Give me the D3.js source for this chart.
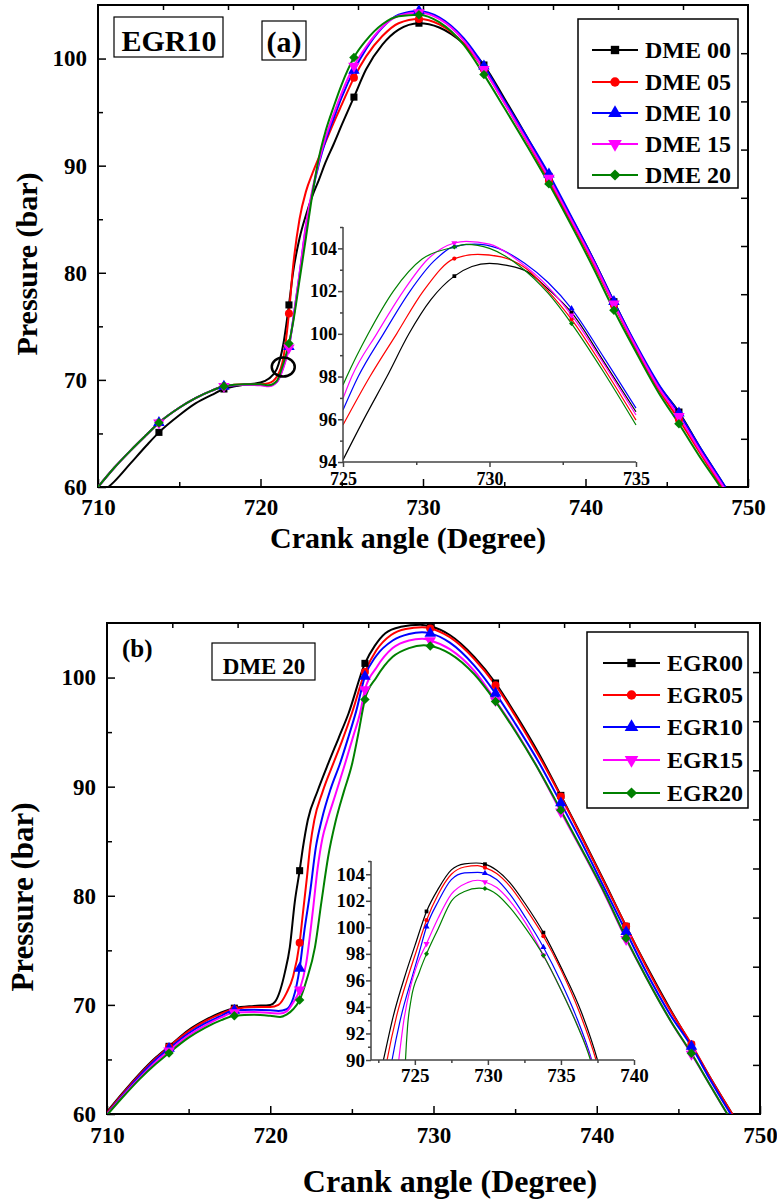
<!DOCTYPE html>
<html><head><meta charset="utf-8">
<script src="https://cdn.jsdelivr.net/npm/d3@7"></script>
<style>
body{margin:0;background:#fff}
svg{display:block}
text{font-family:"Liberation Serif","Times New Roman",serif;font-weight:bold;fill:#000}
</style>
</head><body>
<svg id="c" width="777" height="1200"></svg>
<script>
// ---------------- DATA ----------------
const namesA = ["DME 00","DME 05","DME 10","DME 15","DME 20"];
const namesB = ["EGR00","EGR05","EGR10","EGR15","EGR20"];
const colors = ["#000000","#ff0000","#0000ff","#ff00ff","#008000"];

const xMajor = [710,720,730,740,750];
const xMinor = [715,725,735,745];
const yMajor = [60,70,80,90,100];
const yMinor = [65,75,85,95];
const xTopTicks = [714,718,722,726,730,734,738,742,746];
const yRightTicks = [64.5,69,73.5,78,82.5,87,91.5,96,100.5];

const markersA = [713.75,717.75,721.75,725.75,729.75,733.75,737.75,741.75,745.75];
const markersB = [713.8,717.8,721.8,725.8,729.8,733.8,737.8,741.8,745.8];

// Panel (a) main curves [crank angle, pressure]
const aDME00 = [[710,59.2],[711,60.5],[712,62.2],[713,63.9],[713.75,65.1],[715,66.7],[716,67.8],[717,68.6],[717.75,69.15],[719,69.55],[720,69.75],[720.5,70.1],[721,71.0],[721.4,73.3],[721.75,77.0],[722,80.0],[722.4,83.2],[722.8,85.4],[723.2,87.2],[723.6,88.7],[724,90.3],[724.5,92.0],[725,93.8],[725.75,96.4],[726.5,99.0],[727.5,101.3],[728.5,102.7],[729.75,103.3],[731,102.9],[732.5,101.4],[733.75,99.4],[735,96.3],[736.5,92.4],[737.75,89.0],[739,85.5],[740.5,81.2],[741.75,77.3],[743,73.5],[744.5,69.5],[745.75,67.0],[747,63.8],[748.6,60],[749.5,57.8]];
const aDME05 = [[710,60],[711,61.8],[712,63.4],[713,64.9],[713.75,66.0],[715,67.4],[716,68.3],[717,69.0],[717.75,69.4],[719,69.6],[720,69.6],[720.5,69.7],[721,70.3],[721.4,72.0],[721.75,76.2],[722,80.5],[722.4,85.0],[722.8,87.6],[723.2,89.3],[723.6,90.8],[724,92.2],[724.5,94.0],[725,95.7],[725.75,98.2],[726.5,100.2],[727.5,102.1],[728.5,103.3],[729.75,103.7],[731,103.2],[732.5,101.4],[733.75,99.0],[735,95.9],[736.5,92.0],[737.75,88.6],[739,85.1],[740.5,80.8],[741.75,77.0],[743,73.2],[744.5,69.1],[745.75,66.3],[747,63.3],[748.4,60],[749.5,57.5]];
const aDME10 = [[710,60],[711,61.8],[712,63.4],[713,64.9],[713.75,66.0],[715,67.4],[716,68.3],[717,69.0],[717.75,69.4],[719,69.55],[720,69.55],[720.5,69.45],[721,69.8],[721.4,71.2],[721.75,73.1],[722,75.5],[722.4,79.8],[722.8,84.3],[723.2,87.6],[723.6,90.2],[724,92.3],[724.5,94.4],[725,96.4],[725.75,98.9],[726.5,100.9],[727.5,102.9],[728.5,104.1],[729.75,104.45],[731,103.85],[732.5,101.9],[733.75,99.3],[735,96.1],[736.5,92.4],[737.75,89.2],[739,85.6],[740.5,81.2],[741.75,77.3],[743,73.6],[744.5,69.6],[745.75,66.9],[747,63.8],[748.6,60],[749.5,57.8]];
const aDME15 = [[710,60],[711,61.8],[712,63.4],[713,64.9],[713.75,66.0],[715,67.4],[716,68.3],[717,69.0],[717.75,69.4],[719,69.55],[720,69.5],[720.5,69.4],[721,69.8],[721.4,71.1],[721.75,73.0],[722,75.5],[722.4,79.9],[722.8,84.5],[723.2,87.8],[723.6,90.4],[724,92.6],[724.5,94.8],[725,96.8],[725.75,99.3],[726.5,101.1],[727.5,102.95],[728.5,104.0],[729.75,104.3],[731,103.7],[732.5,101.7],[733.75,99.0],[735,95.9],[736.5,92.1],[737.75,88.85],[739,85.3],[740.5,81.0],[741.75,77.1],[743,73.4],[744.5,69.3],[745.75,66.6],[747,63.5],[748.5,60],[749.5,57.6]];
const aDME20 = [[710,60],[711,61.8],[712,63.4],[713,64.9],[713.75,66.0],[715,67.4],[716,68.3],[717,69.0],[717.75,69.4],[719,69.6],[720,69.6],[720.5,69.5],[721,69.9],[721.4,71.5],[721.75,73.4],[722,75.3],[722.4,79.3],[722.8,83.3],[723.2,87.4],[723.6,90.8],[724,93.2],[724.5,95.5],[725,97.6],[725.75,100.1],[726.5,101.7],[727.5,103.2],[728.5,103.95],[729.75,104.1],[731,103.4],[732.5,101.3],[733.75,98.5],[735,95.4],[736.5,91.6],[737.75,88.3],[739,84.8],[740.5,80.4],[741.75,76.5],[743,72.9],[744.5,68.8],[745.75,65.9],[747,62.9],[748.3,60],[749.5,57.2]];

// Panel (a) inset curves
const insetMarkersA = [728.8,732.8];
const iaDME00 = [[725,94.1],[725.75,96.1],[726.5,98.0],[727.25,100.0],[728.0,101.6],[728.8,102.7],[729.4,103.15],[730.0,103.3],[730.6,103.2],[731.3,102.9],[732.0,102.1],[732.8,101.0],[733.9,98.7],[735,96.35]];
const iaDME05 = [[725,95.73],[725.92,98.0],[726.83,100.0],[727.74,102.0],[728.8,103.52],[729.6,103.72],[730.4,103.6],[731.3,103.0],[732.0,102.0],[732.8,100.68],[733.9,98.4],[735,95.96]];
const iaDME10 = [[725,96.43],[725.52,98.0],[726.38,100.0],[727.29,102.0],[728.1,103.4],[728.8,104.09],[729.5,104.2],[730.3,104.0],[731.2,103.3],[732.0,102.4],[732.8,101.18],[733.9,98.9],[735,96.52]];
const iaDME15 = [[725,96.97],[725.3,98.0],[726.15,100.0],[727.06,102.0],[727.9,103.5],[728.8,104.25],[729.2,104.33],[730.0,104.2],[731.0,103.4],[732.0,102.2],[732.8,100.87],[733.9,98.6],[735,96.2]];
const iaDME20 = [[725,97.6],[725.13,98.0],[725.86,100.0],[726.72,102.0],[727.7,103.5],[728.8,104.06],[729.2,104.19],[730.0,104.0],[731.0,103.2],[732.0,101.9],[732.8,100.48],[733.9,98.2],[735,95.73]];
const insetAxMajor = [725,730,735];
const insetAxMinor = [727.5,732.5];
const insetAyMajor = [94,96,98,100,102,104];
const insetAyMinor = [95,97,99,101,103,105];

// Panel (b) main curves
const bEGR00 = [[710,60.2],[711,62.0],[712,63.7],[713,65.2],[713.8,66.2],[715,67.7],[716,68.6],[717,69.3],[717.8,69.7],[719,69.9],[720,70.0],[720.3,70.3],[720.6,71.3],[720.9,73.0],[721.2,75.3],[721.5,79.4],[721.8,82.3],[722.0,84.4],[722.3,86.95],[722.9,89.6],[723.56,92.15],[724.2,94.5],[724.8,96.73],[725.8,101.3],[726.4,102.9],[727.05,104.06],[728.0,104.65],[729.2,104.85],[729.8,104.7],[731,103.9],[732.5,101.9],[733.8,99.5],[735,96.7],[736.5,92.9],[737.8,89.2],[739,85.7],[740.5,81.2],[741.8,77.2],[743,73.7],[744.5,69.6],[745.8,66.3],[747,63.2],[748.3,60],[749.5,57.2]];
const bEGR05 = [[710,60.1],[711,61.9],[712,63.6],[713,65.1],[713.8,66.15],[715,67.6],[716,68.5],[717,69.2],[717.8,69.6],[719,69.8],[720,69.8],[720.5,70.0],[721.0,71.1],[721.4,72.6],[721.8,75.7],[722.0,78.4],[722.23,81.45],[722.45,84.6],[722.7,86.95],[723.2,89.5],[723.87,92.15],[724.4,94.2],[725.0,96.73],[725.8,100.5],[726.5,102.5],[727.4,103.9],[728.3,104.45],[729.3,104.6],[729.8,104.5],[731,103.7],[732.5,101.7],[733.8,99.3],[735,96.5],[736.5,92.7],[737.8,89.1],[739,85.6],[740.5,81.1],[741.8,77.2],[743,73.6],[744.5,69.5],[745.8,66.4],[747,63.2],[748.3,60],[749.5,57.2]];
const bEGR10 = [[710,60.0],[711,61.8],[712,63.5],[713,65.0],[713.8,66.0],[715,67.4],[716,68.3],[717,69.0],[717.8,69.5],[719,69.55],[720,69.5],[720.5,69.45],[721.0,69.6],[721.2,69.9],[721.6,71.7],[721.8,73.35],[722.1,76.9],[722.43,80.2],[722.8,84.5],[723.15,86.95],[723.7,89.8],[724.28,92.15],[724.8,94.6],[725.26,96.9],[725.8,100.1],[726.5,102.0],[727.5,103.4],[728.5,104.0],[729.3,104.15],[729.8,104.05],[731,103.2],[732.5,101.1],[733.8,98.55],[735,95.8],[736.5,92.1],[737.8,88.5],[739,85.1],[740.5,80.6],[741.8,76.7],[743,73.1],[744.5,69.1],[745.8,66.2],[747,63.0],[748.2,60],[749.5,57]];
const bEGR15 = [[710,59.95],[711,61.7],[712,63.3],[713,64.8],[713.8,65.8],[715,67.2],[716,68.1],[717,68.85],[717.8,69.3],[719,69.35],[720,69.25],[720.6,69.2],[721.0,69.4],[721.4,70.2],[721.8,71.37],[722.2,73.8],[722.6,78.5],[722.9,82.5],[723.2,85.3],[723.5,86.95],[724.0,89.3],[724.59,92.15],[725.1,94.7],[725.5,96.73],[725.8,98.9],[726.5,100.9],[727.5,102.7],[728.5,103.4],[729.3,103.55],[729.8,103.4],[731,102.6],[732.5,100.6],[733.8,97.9],[735,95.2],[736.5,91.4],[737.8,87.7],[739,84.4],[740.5,80.1],[741.8,76.0],[743,72.6],[744.5,68.6],[745.8,65.5],[747,62.5],[748.0,60],[749.5,56.6]];
const bEGR20 = [[710,59.9],[711,61.6],[712,63.2],[713,64.6],[713.8,65.6],[715,67.0],[716,67.9],[717,68.6],[717.8,69.0],[719,69.1],[720,69.0],[720.6,68.9],[721.0,69.1],[721.4,69.6],[721.8,70.45],[722.23,72.3],[722.74,75.3],[723.15,79.6],[723.55,83.6],[724.0,86.8],[724.5,89.5],[725.0,92.0],[725.4,94.9],[725.8,98.0],[726.5,100.0],[727.5,101.9],[728.5,102.7],[729.4,102.95],[729.8,102.9],[731,102.2],[732.5,100.3],[733.8,97.8],[735,95.1],[736.5,91.4],[737.8,87.85],[739,84.5],[740.5,80.2],[741.8,76.1],[743,72.6],[744.5,68.6],[745.8,65.56],[747,62.5],[748.0,60],[749.5,56.5]];

// Panel (b) inset curves
const insetMarkersB = [725.8,729.8,733.8];
const ibEGR00 = [[722.6,88.8],[722.85,90],[723.5,93.2],[724.4,96.6],[725.0,98.6],[725.8,101.2],[726.6,102.9],[727.5,104.33],[728.4,104.78],[729.2,104.85],[729.8,104.76],[730.6,104.3],[731.5,103.37],[732.6,101.7],[733.8,99.6],[735,97.0],[736.4,93.6],[737.5,90],[737.7,89.2]];
const ibEGR05 = [[722.9,88.8],[723.1,90],[723.75,93.3],[724.6,96.5],[725.1,98.2],[725.8,100.54],[726.6,102.5],[727.5,104.0],[728.4,104.55],[729.3,104.65],[729.8,104.5],[730.6,104.05],[731.5,103.1],[732.6,101.4],[733.8,99.33],[735,96.8],[736.3,93.5],[737.4,90],[737.6,89.2]];
const ibEGR10 = [[723.25,88.8],[723.44,90],[724.0,93.0],[724.85,96.4],[725.3,98.1],[725.8,100.04],[726.6,101.95],[727.5,103.6],[728.4,104.1],[729.3,104.15],[729.8,104.07],[730.6,103.6],[731.5,102.5],[732.6,100.7],[733.8,98.5],[735,95.9],[736.0,93.4],[737.1,90],[737.3,89.2]];
const ibEGR15 = [[723.75,88.6],[723.9,90],[724.25,93.0],[724.7,95.5],[725.2,97.3],[725.8,98.77],[726.6,100.7],[727.5,102.5],[728.6,103.37],[729.3,103.55],[729.8,103.42],[730.6,103.0],[731.5,102.0],[732.6,100.3],[733.8,97.9],[735,95.3],[736.0,92.95],[737.07,90],[737.3,89.2]];
const ibEGR20 = [[724.3,88.5],[724.36,90],[724.5,92.5],[724.75,94.6],[725.3,96.6],[725.8,98.0],[726.6,99.9],[727.5,101.98],[728.4,102.7],[729.4,102.95],[729.8,102.92],[730.6,102.5],[731.5,101.5],[732.6,99.9],[733.8,97.88],[735,95.3],[736.0,92.9],[737.02,90],[737.2,89.3]];
const insetBxMajor = [725,730,735,740];
const insetBxMinor = [722.5,727.5,732.5,737.5];
const insetByMajor = [90,92,94,96,98,100,102,104];
const insetByMinor = [91,93,95,97,99,101,103,105];

// ---------------- DRAWING ----------------
const svg = d3.select("#c");
const symbolDefs = [
  {type: d3.symbolSquare, rot: 0, k: 1},
  {type: d3.symbolCircle, rot: 0, k: 1},
  {type: d3.symbolTriangle, rot: 0, k: 1.15},
  {type: d3.symbolTriangle, rot: 180, k: 1.15},
  {type: d3.symbolSquare, rot: 45, k: 0.9}
];
function marker(g, i, cx, cy, size) {
  const s = symbolDefs[i];
  g.append("path")
    .attr("d", d3.symbol().type(s.type).size(size * s.k)())
    .attr("transform", `translate(${cx},${cy}) rotate(${s.rot})`)
    .attr("fill", colors[i]);
}
function styleAxis(g, fontSize, weight, color) {
  g.select(".domain").remove();
  g.selectAll(".tick line").attr("stroke", color || "#000").attr("stroke-width", 1.5);
  g.selectAll(".tick text").attr("font-size", fontSize).attr("font-weight", weight || "bold")
    .attr("fill", "#000").attr("font-family", '"Liberation Serif","Times New Roman",serif');
}
function near(a, b) { return Math.abs(a - b) < 1e-6; }

function mainPanel(cfg) {
  const x = d3.scaleLinear().domain([710, 750]).range([cfg.left, cfg.right]);
  const y = d3.scaleLinear().domain([60, 105]).range([cfg.bottom, cfg.top]);
  const g = svg.append("g");
  const clipId = cfg.id + "-clip";
  svg.append("clipPath").attr("id", clipId).append("rect")
    .attr("x", cfg.left).attr("y", cfg.top)
    .attr("width", cfg.right - cfg.left).attr("height", cfg.bottom - cfg.top);

  // axes
  g.append("g").attr("transform", `translate(0,${cfg.bottom})`)
    .call(d3.axisBottom(x).tickValues(xMajor).tickSize(-8).tickPadding(cfg.xPad).tickFormat(d3.format("d")))
    .call(a => styleAxis(a, cfg.tickFont));
  g.append("g").attr("transform", `translate(0,${cfg.bottom})`)
    .call(d3.axisBottom(x).tickValues(xMinor).tickSize(-5).tickFormat(""))
    .call(a => styleAxis(a, cfg.tickFont));
  g.append("g").attr("transform", `translate(${cfg.left},0)`)
    .call(d3.axisLeft(y).tickValues(yMajor).tickSize(-8).tickPadding(11).tickFormat(d3.format("d")))
    .call(a => styleAxis(a, cfg.tickFont));
  g.append("g").attr("transform", `translate(${cfg.left},0)`)
    .call(d3.axisLeft(y).tickValues(yMinor).tickSize(-5).tickFormat(""))
    .call(a => styleAxis(a, cfg.tickFont));
  g.append("g").attr("transform", `translate(0,${cfg.top})`)
    .call(d3.axisTop(x).tickValues(xTopTicks).tickSize(-5).tickFormat(""))
    .call(a => styleAxis(a, cfg.tickFont));
  g.append("g").attr("transform", `translate(${cfg.right},0)`)
    .call(d3.axisRight(y).tickValues(yRightTicks).tickSize(-7).tickFormat(""))
    .call(a => styleAxis(a, cfg.tickFont));

  g.append("rect").attr("x", cfg.left).attr("y", cfg.top)
    .attr("width", cfg.right - cfg.left).attr("height", cfg.bottom - cfg.top)
    .attr("fill", "none").attr("stroke", "#000").attr("stroke-width", 2);

  // curves
  const line = d3.line().x(d => x(d[0])).y(d => y(d[1])).curve(d3.curveMonotoneX);
  const lg = g.append("g").attr("clip-path", `url(#${clipId})`);
  cfg.series.forEach((s, i) => {
    lg.append("path").datum(s).attr("d", line).attr("fill", "none")
      .attr("stroke", colors[i]).attr("stroke-width", 2);
  });
  cfg.series.forEach((s, i) => {
    s.filter(d => cfg.markers.some(m => near(m, d[0]))).forEach(d => marker(lg, i, x(d[0]), y(d[1]), 50));
  });

  // axis titles
  g.append("text").attr("x", cfg.xTitle[0]).attr("y", cfg.xTitle[1]).attr("text-anchor", "middle")
    .attr("font-size", cfg.xTitle[2]).text("Crank angle (Degree)");
  g.append("text").attr("transform", `translate(${cfg.yTitle[0]},${cfg.yTitle[1]}) rotate(-90)`)
    .attr("text-anchor", "middle").attr("font-size", cfg.yTitle[2]).text("Pressure (bar)");

  // legend
  const L = cfg.legend;
  g.append("rect").attr("x", L.x0).attr("y", L.y0).attr("width", L.x1 - L.x0).attr("height", L.y1 - L.y0)
    .attr("fill", "#fff").attr("stroke", "#000").attr("stroke-width", 1.5);
  cfg.names.forEach((n, i) => {
    const yy = L.rows[i];
    g.append("line").attr("x1", L.l0).attr("x2", L.l1).attr("y1", yy).attr("y2", yy)
      .attr("stroke", colors[i]).attr("stroke-width", 2);
    marker(g, i, (L.l0 + L.l1) / 2, yy, 70);
    g.append("text").attr("x", L.tx).attr("y", yy).attr("dy", "0.35em")
      .attr("font-size", L.font).text(n);
  });
  return {x, y, g};
}

function insetPanel(cfg) {
  const x = d3.scaleLinear().domain(cfg.xd).range([cfg.left, cfg.right]);
  const y = d3.scaleLinear().domain(cfg.yd).range([cfg.bottom, cfg.top]);
  const g = svg.append("g");
  const clipId = cfg.id + "-clip";
  svg.append("clipPath").attr("id", clipId).append("rect")
    .attr("x", cfg.left).attr("y", cfg.top - 2)
    .attr("width", cfg.right - cfg.left + 1).attr("height", cfg.bottom - cfg.top + 2);
  const line = d3.line().x(d => x(d[0])).y(d => y(d[1])).curve(d3.curveMonotoneX);
  const lg = g.append("g").attr("clip-path", `url(#${clipId})`);
  cfg.series.forEach((s, i) => {
    lg.append("path").datum(s).attr("d", line).attr("fill", "none")
      .attr("stroke", colors[i]).attr("stroke-width", 1.2);
  });
  cfg.series.forEach((s, i) => {
    s.filter(d => cfg.markers.some(m => near(m, d[0]))).forEach(d => marker(lg, i, x(d[0]), y(d[1]), 14));
  });
  const ax = "#444";
  g.append("g").attr("transform", `translate(0,${cfg.bottom})`)
    .call(d3.axisBottom(x).tickValues(cfg.xMajor).tickSize(5).tickPadding(cfg.xPad).tickFormat(d3.format("d")))
    .call(a => styleAxis(a, cfg.xFont, cfg.xWeight, ax));
  g.append("g").attr("transform", `translate(0,${cfg.bottom})`)
    .call(d3.axisBottom(x).tickValues(cfg.xMinor).tickSize(3).tickFormat(""))
    .call(a => styleAxis(a, cfg.xFont, cfg.xWeight, ax));
  g.append("g").attr("transform", `translate(${cfg.left},0)`)
    .call(d3.axisLeft(y).tickValues(cfg.yMajor).tickSize(5).tickPadding(1).tickFormat(d3.format("d")))
    .call(a => styleAxis(a, cfg.yFont, "bold", ax));
  g.append("g").attr("transform", `translate(${cfg.left},0)`)
    .call(d3.axisLeft(y).tickValues(cfg.yMinor).tickSize(3).tickFormat(""))
    .call(a => styleAxis(a, cfg.yFont, "bold", ax));
  g.append("line").attr("x1", cfg.left).attr("x2", cfg.left).attr("y1", cfg.top).attr("y2", cfg.bottom)
    .attr("stroke", ax).attr("stroke-width", 1.5);
  g.append("line").attr("x1", cfg.left).attr("x2", cfg.right).attr("y1", cfg.bottom).attr("y2", cfg.bottom)
    .attr("stroke", ax).attr("stroke-width", 1.5);
}

// ----- Panel (a)
const A = mainPanel({
  id: "pa", left: 98, right: 748, top: 5, bottom: 487,
  xPad: 12, tickFont: 23,
  series: [aDME00, aDME05, aDME10, aDME15, aDME20], markers: markersA, names: namesA,
  xTitle: [408, 548, 30], yTitle: [37, 264, 30],
  legend: {x0: 578, x1: 738, y0: 19, y1: 188, rows: [50, 82, 113, 144, 175], l0: 592, l1: 638, tx: 645, font: 24}
});
insetPanel({
  id: "ia", xd: [725, 735], yd: [94, 105], left: 343, right: 636, top: 227, bottom: 462,
  series: [iaDME00, iaDME05, iaDME10, iaDME15, iaDME20], markers: insetMarkersA,
  xMajor: insetAxMajor, xMinor: insetAxMinor, yMajor: insetAyMajor, yMinor: insetAyMinor,
  xPad: 5, xFont: 18, xWeight: "normal", yFont: 18
});
// annotation ellipse and labels (a)
A.g.append("ellipse").attr("cx", A.x(721.4)).attr("cy", A.y(71.2)).attr("rx", 11.5).attr("ry", 9.5)
  .attr("fill", "none").attr("stroke", "#000").attr("stroke-width", 2.5);
A.g.append("rect").attr("x", 114).attr("y", 17).attr("width", 109).attr("height", 40)
  .attr("fill", "#fff").attr("stroke", "#000").attr("stroke-width", 1.2);
A.g.append("text").attr("x", 169).attr("y", 51).attr("text-anchor", "middle").attr("font-size", 30).text("EGR10");
A.g.append("rect").attr("x", 262).attr("y", 21).attr("width", 44).attr("height", 39)
  .attr("fill", "#fff").attr("stroke", "#000").attr("stroke-width", 1.2);
A.g.append("text").attr("x", 284).attr("y", 52).attr("text-anchor", "middle").attr("font-size", 30).text("(a)");

// ----- Panel (b)
const B = mainPanel({
  id: "pb", left: 107, right: 760, top: 623, bottom: 1114,
  xPad: 13, tickFont: 23,
  series: [bEGR00, bEGR05, bEGR10, bEGR15, bEGR20], markers: markersB, names: namesB,
  xTitle: [450, 1192, 32], yTitle: [33, 897, 31],
  legend: {x0: 587, x1: 748, y0: 632, y1: 808, rows: [663, 695, 727, 760, 793], l0: 603, l1: 660, tx: 667, font: 24}
});
insetPanel({
  id: "ib", xd: [722, 740], yd: [90, 105], left: 371, right: 634, top: 861, bottom: 1060,
  series: [ibEGR00, ibEGR05, ibEGR10, ibEGR15, ibEGR20], markers: insetMarkersB,
  xMajor: insetBxMajor, xMinor: insetBxMinor, yMajor: insetByMajor, yMinor: insetByMinor,
  xPad: 4, xFont: 19, xWeight: "bold", yFont: 19
});
B.g.append("text").attr("x", 122).attr("y", 657).attr("font-size", 25).text("(b)");
B.g.append("rect").attr("x", 212).attr("y", 643).attr("width", 103).attr("height", 37)
  .attr("fill", "#fff").attr("stroke", "#000").attr("stroke-width", 1.2);
B.g.append("text").attr("x", 264).attr("y", 674).attr("text-anchor", "middle").attr("font-size", 23).text("DME 20");
</script>
</body></html>
